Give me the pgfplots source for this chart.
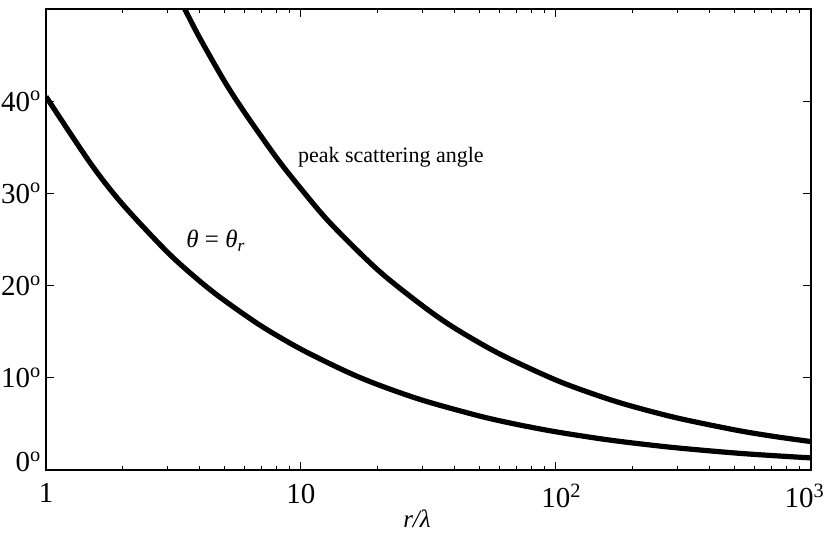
\documentclass[border=0pt]{standalone}
\usepackage{fontspec}
\setmainfont{Liberation Serif}
\usepackage{pgfplots}
\pgfplotsset{compat=1.18}

\pgfplotstableread{
x      y
1      40.5
1.5    33.2
2      28.8
3      23.6
4      20.5
5      18.4
7      15.6
10     13.1
15     10.7
20     9.26
30     7.56
50     5.86
70     4.95
100    4.14
150    3.38
200    2.93
300    2.39
500    1.85
700    1.57
1000   1.31
}\thetar

\pgfplotstableread{
x      y
3.3    51.4
3.5    50.0
4      46.9
5      42.2
6      38.8
8      33.9
10     30.5
13     26.8
20     21.7
30     17.8
40     15.4
60     12.6
100    9.75
150    7.96
200    6.89
300    5.63
500    4.36
700    3.68
1000   3.08
}\peak

\begin{document}
\fontsize{11}{13}\selectfont
\begin{tikzpicture}
\begin{axis}[
    scale only axis,
    width=382.5pt, height=230.5pt,
    xmode=log,
    xmin=1, xmax=1000,
    ymin=0, ymax=50,
    axis line style={line width=1pt},
    every tick/.style={black, line width=0.5pt},
    major tick length=4pt,
    minor tick length=2.2pt,
    xtick={1,10,100,1000},
    xticklabels={1,10,10\rlap{\textsuperscript{2}},\hspace*{-12pt}10\rlap{\textsuperscript{3}}},
    ytick={0,10,20,30,40},
    yticklabels={\raisebox{8pt}{0\textsuperscript{o}},10\textsuperscript{o},20\textsuperscript{o},30\textsuperscript{o},40\textsuperscript{o}},
    tick label style={font=\fontsize{14.5}{17}\selectfont},
    xticklabel style={yshift=-3pt},
    yticklabel style={xshift=1.5pt},
    xlabel={\fontsize{12.5}{15}\selectfont\textit{r/λ}},
    xlabel style={at={(axis description cs:0.485,0)}, anchor=base, yshift=-29pt, inner sep=0pt},
]
\addplot[black, line width=2.6pt, smooth] table[x=x, y=y] {\thetar};
\addplot[black, line width=2.6pt, smooth] table[x=x, y=y] {\peak};
\node[anchor=base west, inner sep=0pt] at (axis cs:9.7,33.4) {peak scattering angle};
\node[anchor=base west, inner sep=0pt, font=\fontsize{12.5}{15}\selectfont] at (axis cs:3.54,24.1) {\textit{θ} = \textit{θ}\textsubscript{\textit{r}}};
\end{axis}
\pgfresetboundingbox
\path ([shift={(-23pt,-34.5pt)}]current axis.south west) rectangle ([shift={(6pt,4.5pt)}]current axis.north east);
\end{tikzpicture}
\end{document}
